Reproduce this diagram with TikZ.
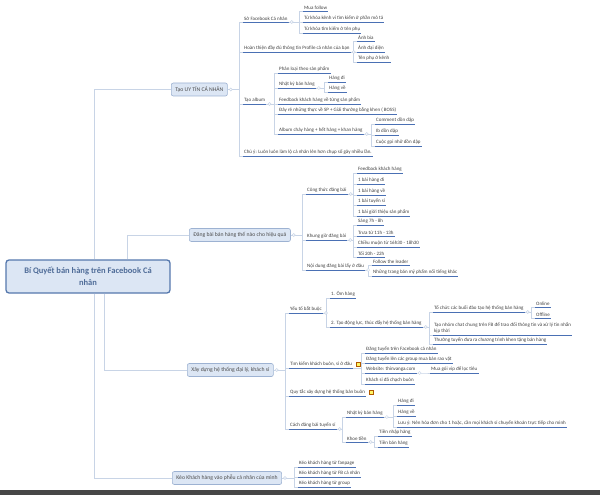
\documentclass[tikz,border=0pt]{standalone}
\usepackage{fontspec}
\setmainfont{Carlito}
\usetikzlibrary{calc,positioning}
\definecolor{linkc}{HTML}{C8D4E6}
\definecolor{ulc}{HTML}{4A70B4}
\definecolor{topfill}{HTML}{DCE6F4}
\definecolor{topdraw}{HTML}{9DB2D2}
\definecolor{centdraw}{HTML}{5578AD}
\definecolor{centtext}{HTML}{4F6C98}
\begin{document}
\begin{tikzpicture}[x=1pt, y=-1pt]
    \tikzstyle{central}=[draw=centdraw, fill=topfill, line width=1.3pt, rounded corners=3pt, minimum width=164pt, minimum height=33pt, align=center, font=\fontsize{8.5}{12}\selectfont\bfseries, text=centtext]
    \tikzstyle{topic}=[draw=topdraw, fill=topfill, line width=0.6pt, rounded corners=2pt, minimum height=13pt, inner xsep=4pt, inner ysep=0pt, anchor=west, font=\fontsize{5.7}{6.5}\selectfont, text=black!70]
    \tikzstyle{uline}=[draw=ulc, line width=0.8pt]
    \tikzstyle{sub}=[anchor=south west, inner xsep=1pt, inner ysep=1.2pt, font=\fontsize{5}{6}\selectfont, text=black!75, append after command={(\tikzlastnode.south west) edge[uline] (\tikzlastnode.south east)}]
    \tikzstyle{link}=[draw=linkc, line width=0.7pt]
    \tikzstyle{knob}=[circle, draw=linkc, fill=white, line width=0.5pt, inner sep=0pt, minimum size=3pt]
    \tikzstyle{note}=[draw=orange!70!black, fill=yellow!60, line width=0.3pt, inner sep=0pt, minimum size=4pt]

    \useasboundingbox (0,0) rectangle (600,495);

    % trung tam + nhanh chinh
    \node[central] (cen) at (88,276.5) {Bí Quyết bán hàng trên Facebook Cá\\nhân};
    \node[topic] (b1) at (171,89.5) {Tạo UY TÍN CÁ NHÂN};
    \node[topic] (b2) at (189,235) {Đăng bài bán hàng thế nào cho hiệu quả};
    \node[topic] (b3) at (187,370) {Xây dựng hệ thống đại lý, khách sỉ};
    \node[topic] (b4) at (172,478) {Kéo Khách hàng vào phễu cá nhân của mình};

    % nhanh 1
    \node[sub] (s11) at (243,22) {Sở Facebook Cá nhân};
    \node[sub] (s111) at (303,11) {Mua follow};
    \node[sub] (s112) at (303,22) {Từ khóa kênh vi tìm kiếm ở phần mô tả};
    \node[sub] (s113) at (303,33) {Từ khóa tìm kiếm ở tên phụ};
    \node[sub] (s12) at (243,52) {Hoàn thiện đầy đủ thông tin Profile cá nhân của bạn};
    \node[sub] (s121) at (357,41) {Ảnh bìa};
    \node[sub] (s122) at (357,52) {Ảnh đại diện};
    \node[sub] (s123) at (357,62) {Tên phụ ở kênh};
    \node[sub] (s13) at (243,104) {Tạo album};
    \node[sub] (s131) at (278,73) {Phân loại theo sản phẩm};
    \node[sub] (s132) at (278,88) {Nhật ký bán hàng};
    \node[sub] (s1321) at (328,82) {Hàng đi};
    \node[sub] (s1322) at (328,92) {Hàng về};
    \node[sub] (s133) at (278,104) {Feedback khách hàng về từng sản phẩm};
    \node[sub] (s134) at (278,114) {Đây rẻ những thực về SP + Giải thưởng bằng khen ( BOSS)};
    \node[sub] (s135) at (278,134) {Album cháy hàng + hết hàng + khan hàng};
    \node[sub] (s1351) at (375,124) {Comment dồn dập};
    \node[sub] (s1352) at (375,135) {Ib dồn dập};
    \node[sub] (s1353) at (375,146) {Cuộc gọi nhỡ dồn dập};
    \node[sub] (s14) at (243,156) {Chú ý: Luôn luôn làm lộ cá nhân lên hơn chụp số gây nhiều lần.};

    % nhanh 2
    \node[sub] (s21) at (306,194) {Công thức đăng bài};
    \node[sub] (s211) at (357,173) {Feedback khách hàng};
    \node[sub] (s212) at (357,184) {1 bài hàng đi};
    \node[sub] (s213) at (357,195) {1 bài hàng về};
    \node[sub] (s214) at (357,205) {1 bài tuyển sỉ};
    \node[sub] (s215) at (357,216) {1 bài giới thiệu sản phẩm};
    \node[sub] (s22) at (306,240) {Khung giờ đăng bài};
    \node[sub] (s221) at (357,225) {Sáng 7h - 8h};
    \node[sub] (s222) at (357,236) {Trưa từ 11h - 13h};
    \node[sub] (s223) at (357,247) {Chiều muộn từ 16h30 - 18h30};
    \node[sub] (s224) at (357,257) {Tối 20h - 22h};
    \node[sub] (s23) at (306,270) {Nội dung đăng bài lấy ở đâu};
    \node[sub] (s231) at (372,265) {Follow the leader};
    \node[sub] (s232) at (372,276) {Những trang bán mỹ phẩm nổi tiếng khác};

    % nhanh 3
    \node[sub] (s31) at (289,313) {Yếu tố bắt buộc};
    \node[sub] (s311) at (330,298) {1. Ôm hàng};
    \node[sub] (s312) at (330,327) {2. Tạo động lực, thúc đẩy hệ thống bán hàng};
    \node[sub] (s3121) at (433,312) {Tổ chức các buổi đào tạo hệ thống bán hàng};
    \node[sub] (s31211) at (535,307) {Online};
    \node[sub] (s31212) at (535,318) {Offline};
    \node[sub, align=left] (s3122) at (433,335) {Tạo nhóm chat chung trên FB để trao đổi thông tin và xử lý tin nhắn\\kịp thời};
    \node[sub] (s3123) at (433,344) {Thưởng tuyển đưa ra chương trình khen tặng bán hàng};
    \node[sub] (s32) at (289,368) {Tìm kiếm khách buôn, sỉ ở đâu};
    \node[note, right=3pt of s32] (n1) {};
    \node[sub] (s321) at (365,353) {Đăng tuyển trên Facebook cá nhân};
    \node[sub] (s322) at (365,363) {Đăng tuyển lên các group mua bán rao vặt};
    \node[sub] (s323) at (365,373) {Website: thinvanga.com};
    \node[sub] (s3231) at (430,373) {Mua gói vip để lọc tiêu};
    \node[sub] (s324) at (365,384) {Khách sỉ đã chạch buôn};
    \node[sub] (s33) at (289,396) {Quy tắc xây dựng hệ thống bán buôn};
    \node[note, right=3pt of s33] (n2) {};
    \node[sub] (s34) at (289,429) {Cách đăng bài tuyển sỉ};
    \node[sub] (s341) at (346,417) {Nhật ký bán hàng};
    \node[sub] (s3411) at (397,405) {Hàng đi};
    \node[sub] (s3412) at (397,416) {Hàng về};
    \node[sub] (s3413) at (397,427) {Lưu ý: Nên hóa đơn cho 1 hoặc, cần mọi khách sỉ chuyển khoản trực tiếp cho mình};
    \node[sub] (s342) at (346,442) {Khoe tiền};
    \node[sub] (s3421) at (378,436) {Tiền nhập hàng};
    \node[sub] (s3422) at (378,447) {Tiền bán hàng};

    % nhanh 4
    \node[sub] (s41) at (298,467) {Kéo khách hàng từ fanpage};
    \node[sub] (s42) at (298,477) {Kéo khách hàng từ FB cá nhân};
    \node[sub] (s43) at (298,487) {Kéo khách hàng từ group};

    % duong noi
    \draw[link] ([xshift=89pt]cen.north west) |- (b1.west);
    \draw[link] ([xshift=122pt]cen.north west) |- (b2.west);
    \draw[link] ([xshift=99pt]cen.south west) |- (b3.west);
    \draw[link] ([xshift=89pt]cen.south west) |- (b4.west);
    \foreach \p/\c in {b1/s11, b1/s12, b1/s13, b1/s14, b2/s21, b2/s22, b2/s23,
                       b3/s31, b3/s32, b3/s33, b3/s34, b4/s41, b4/s42, b4/s43}
        \draw[link] (\p.east) -- ($(\p.east -| \c.south west)+(-4,0)$) |- (\c.south west);
    \foreach \p/\c in {s11/s111, s11/s112, s11/s113, s12/s121, s12/s122, s12/s123,
                       s13/s131, s13/s132, s13/s133, s13/s134, s13/s135,
                       s132/s1321, s132/s1322, s135/s1351, s135/s1352, s135/s1353,
                       s21/s211, s21/s212, s21/s213, s21/s214, s21/s215,
                       s22/s221, s22/s222, s22/s223, s22/s224, s23/s231, s23/s232,
                       s31/s311, s31/s312, s312/s3121, s312/s3122, s312/s3123,
                       s3121/s31211, s3121/s31212,
                       s32/s321, s32/s322, s32/s323, s32/s324, s323/s3231,
                       s34/s341, s34/s342, s341/s3411, s341/s3412, s341/s3413,
                       s342/s3421, s342/s3422}
        \draw[link] (\p.south east) -- ($(\p.south east -| \c.south west)+(-4,0)$) |- (\c.south west);
    \foreach \p in {b1,b2,b3,b4}
        \node[knob] (k\p) at ([xshift=3pt]\p.east) {};
    \foreach \p in {s11,s12,s13,s132,s135,s21,s22,s23,s31,s312,s3121,s323,s34,s341,s342}
        \node[knob] (k\p) at ([xshift=3pt]\p.south east) {};
    \node[note] (n1b) at (n1) {};
    \node[note] (n2b) at (n2) {};

    \fill[black!72] (0,490) rectangle (600,495);
\end{tikzpicture}
\end{document}
